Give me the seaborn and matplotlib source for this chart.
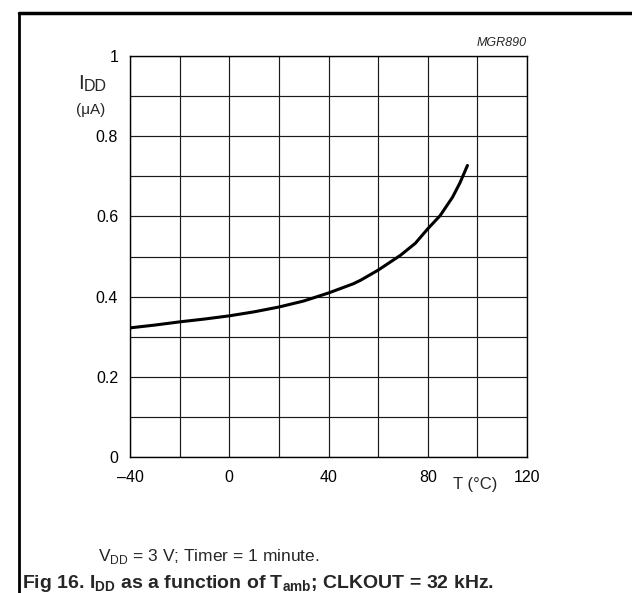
import matplotlib
matplotlib.use("Agg")
import matplotlib.pyplot as plt
import seaborn as sns
import numpy as np
import pandas as pd
from matplotlib.lines import Line2D

# data
temp_c = [-40, -30, -20, -10, 0, 10, 20, 30, 40, 50, 53, 60, 69, 75, 80, 85, 90, 93, 96]
idd_ua = [0.322, 0.329, 0.337, 0.344, 0.352, 0.362, 0.374, 0.389, 0.409, 0.432, 0.441, 0.466, 0.503, 0.533, 0.569, 0.602, 0.648, 0.684, 0.727]
x_ticks = [-40, 0, 40, 80, 120]
x_tick_labels = ["\u201340", "0", "40", "80", "120"]
y_ticks = [0, 0.2, 0.4, 0.6, 0.8, 1]
y_tick_labels = ["0", "0.2", "0.4", "0.6", "0.8", "1"]

sns.set_style("white")
plt.rcParams['font.family'] = ['Liberation Sans', 'DejaVu Sans']

W, H = 632, 593
fig = plt.figure(figsize=(W / 100, H / 100), dpi=100)
left, right, top, bottom = 130, 527, 56, 457
ax = fig.add_axes([left / W, 1 - bottom / H, (right - left) / W, (bottom - top) / H])

df = pd.DataFrame({"T": temp_c, "IDD": idd_ua})
sns.lineplot(data=df, x="T", y="IDD", ax=ax, color="black", linewidth=2.2)

ax.set_xlim(-40, 120)
ax.set_ylim(0, 1)
ax.set_xticks(x_ticks)
ax.set_xticklabels(x_tick_labels)
ax.set_yticks(y_ticks)
ax.set_yticklabels(y_tick_labels)
ax.set_xticks(np.arange(-40, 121, 20), minor=True)
ax.set_yticks(np.arange(0, 1.01, 0.1), minor=True)
ax.grid(which="both", color="#1a1a1a", linewidth=0.85)
ax.tick_params(which="both", length=0, labelsize=11.5, colors="black")
ax.tick_params(axis="x", pad=9.5)
ax.tick_params(axis="y", pad=8.5)
for s in ax.spines.values():
    s.set_color("black")
    s.set_linewidth(1.0)
ax.set_xlabel("")
ax.set_ylabel("")

def fx(px):
    return px / W

def fy(py):
    return 1 - py / H

# y-axis label: I with DD subscript, unit below
fig.text(fx(78), fy(89), "I", fontsize=15, ha="left", va="baseline")
fig.text(fx(84), fy(91), "DD", fontsize=11.5, ha="left", va="baseline")
fig.text(fx(76), fy(110), "(\u03bcA)", fontsize=11, ha="left", va="center")
fig.text(fx(453), fy(485), "T (\u00b0C)", fontsize=12, ha="left", va="center")
fig.text(fx(527), fy(43), "MGR890", fontsize=9, style="italic", ha="right", va="center")
fig.text(fx(98), fy(557), r"V$_{\mathregular{DD}}$ = 3 V; Timer = 1 minute.", fontsize=12.5, ha="left", va="center")
fig.text(fx(22), fy(583), r"Fig 16. I$_{\mathregular{DD}}$ as a function of T$_{\mathregular{amb}}$; CLKOUT = 32 kHz.",
         fontsize=14, fontweight="bold", ha="left", va="center")

# outer frame lines
fig.add_artist(Line2D([fx(19), 1], [fy(13), fy(13)], color="black", linewidth=2.5))
fig.add_artist(Line2D([fx(19), fx(19)], [fy(13), 0], color="black", linewidth=2.0))

fig.savefig("out.png", dpi=100)
